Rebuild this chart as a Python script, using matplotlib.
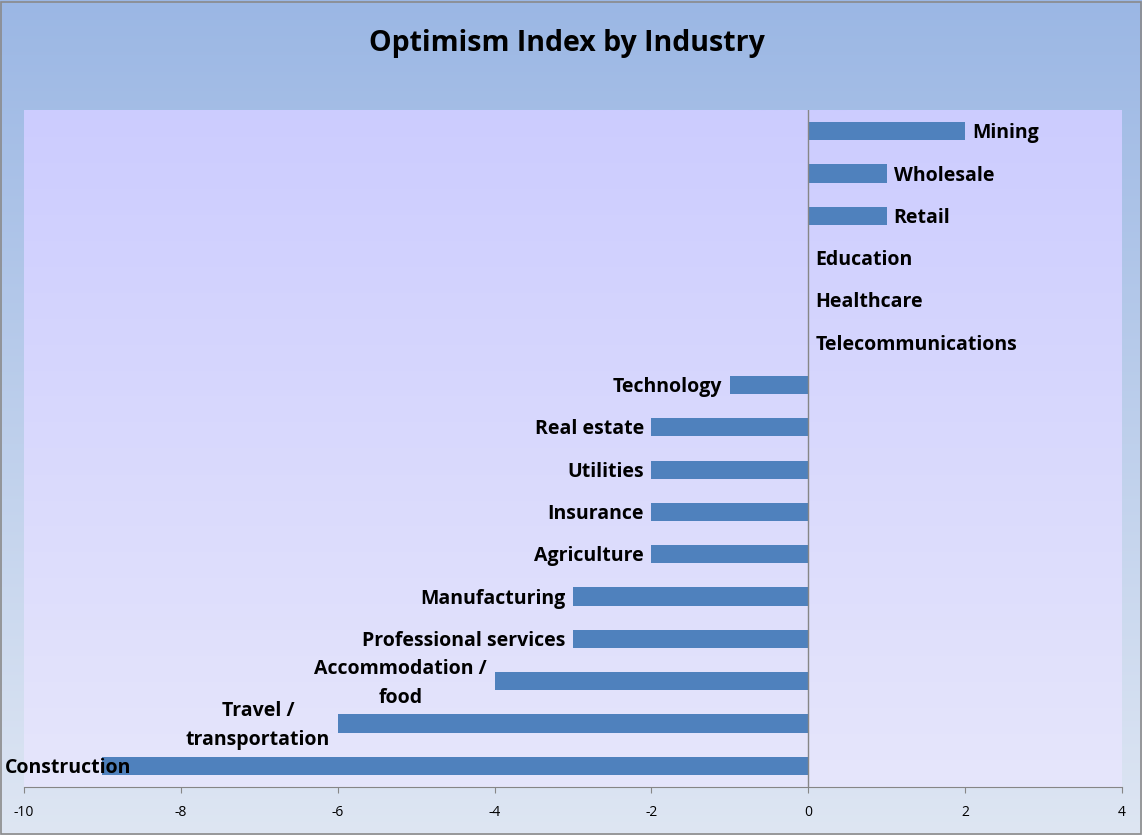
import numpy as np
import matplotlib.pyplot as plt
from matplotlib.patches import Rectangle
import matplotlib.transforms as mtransforms

industries = ["Mining", "Wholesale", "Retail", "Education", "Healthcare",
              "Telecommunications", "Technology", "Real estate", "Utilities",
              "Insurance", "Agriculture", "Manufacturing", "Professional services",
              "Accommodation /\nfood", "Travel /\ntransportation", "Construction"]
optimism = [2, 1, 1, 0, 0, 0, -1, -2, -2, -2, -2, -3, -3, -4, -6, -9]

plt.rcParams['font.family'] = ['Open Sans', 'DejaVu Sans']
plt.rcParams['axes.unicode_minus'] = False

W, H = 1142, 835
fig = plt.figure(figsize=(W / 100, H / 100), dpi=100)

# outer background gradient
bg = fig.add_axes([0, 0, 1, 1], zorder=-10)
grad = np.linspace(0, 1, 256).reshape(-1, 1)
top = np.array([155, 183, 228]) / 255
bot = np.array([222, 230, 243]) / 255
img = top + (bot - top) * grad[..., None]
bg.imshow(img, aspect='auto', extent=[0, 1, 0, 1], origin='upper')
bg.set_axis_off()
fig.patches.append(Rectangle((0.001, 0.001), 0.998, 0.997, transform=fig.transFigure,
                             fill=False, edgecolor='#8a8a8a', lw=1.2))

ax = fig.add_axes([24 / W, (H - 787) / H, 1098 / W, 677 / H])
ptop = np.array([204, 204, 255]) / 255
pbot = np.array([230, 230, 251]) / 255
pimg = ptop + (pbot - ptop) * grad[..., None]
ax.imshow(pimg, aspect='auto', extent=[0, 1, 0, 1], transform=ax.transAxes,
          origin='upper', zorder=0)

y = np.arange(len(industries))
ax.barh(y, optimism, height=0.43, color='#4F81BD', zorder=2)
ax.axvline(0, color='#868686', lw=1, zorder=3)

ax.set_xlim(-10, 4)
ax.set_ylim(len(industries) - 0.5, -0.5)
ax.set_xticks(range(-10, 5, 2))
ax.set_yticks([])
for s in ['left', 'top', 'right']:
    ax.spines[s].set_visible(False)
ax.spines['bottom'].set_color('#868686')
ax.tick_params(axis='x', direction='out', length=4, color='#868686',
               labelsize=10, pad=9)

lbl = dict(fontsize=14, fontweight='bold', va='center', zorder=4, linespacing=1.6)
for i, (name, v) in enumerate(zip(industries, optimism)):
    if v < -8:
        # too long to fit on the left, pin to figure edge
        trans = mtransforms.blended_transform_factory(fig.transFigure, ax.transData)
        trans = trans + mtransforms.ScaledTranslation(0, -1.5 / 72, fig.dpi_scale_trans)
        ax.text(5 / W, i, name, transform=trans, ha='left', **lbl)
    elif v < 0:
        ax.annotate(name, (v, i), xytext=(-5.5, -1.5), textcoords='offset points',
                    ha='right', multialignment='center', **lbl)
    else:
        ax.annotate(name, (v, i), xytext=(5, -1.5), textcoords='offset points',
                    ha='left', **lbl)

fig.text(567 / W, 1 - 43 / H, "Optimism Index by Industry", ha='center', va='center',
         fontsize=20.5, fontweight='bold')

fig.savefig('out.png', dpi=100)
